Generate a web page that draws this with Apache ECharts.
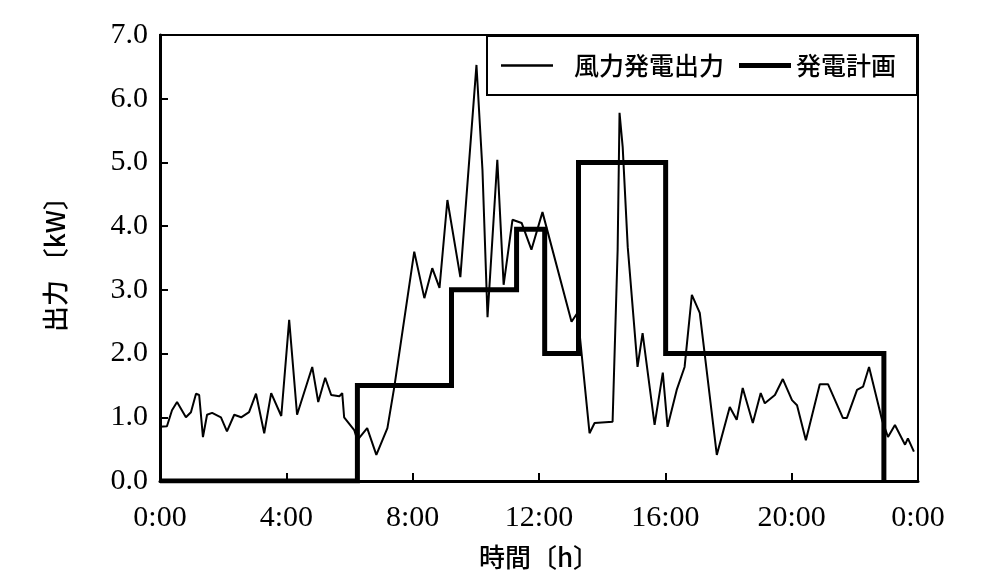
<!DOCTYPE html>
<html>
<head>
<meta charset="utf-8">
<script src="https://cdn.jsdelivr.net/npm/echarts@6/dist/echarts.min.js"></script>
<style>
html,body{margin:0;padding:0;background:#fff;}
#c{width:1008px;height:584px;}
</style>
</head>
<body>
<div id="c"></div>
<script>
// Wind power output: hours and kW
const windHours = [0,0.22,0.38,0.54,0.82,0.98,1.14,1.24,1.36,1.49,1.65,1.93,2.12,2.35,2.57,2.82,3.04,3.30,3.52,3.84,4.09,4.34,4.82,5.01,5.23,5.42,5.68,5.77,5.83,6.15,6.25,6.56,6.85,7.2,7.42,8.05,8.37,8.62,8.85,9.1,9.51,10.02,10.21,10.37,10.68,10.88,11.16,11.45,11.76,12.11,13.03,13.22,13.6,13.76,14.33,14.49,14.55,14.65,14.81,15.12,15.28,15.66,15.92,16.07,16.36,16.61,16.84,17.09,17.63,18.04,18.26,18.45,18.77,19.02,19.15,19.47,19.72,20.01,20.17,20.45,20.89,21.15,21.62,21.75,22.07,22.26,22.45,22.86,23.05,23.27,23.59,23.68,23.87];
const windValues = [0.85,0.86,1.11,1.24,1.0,1.08,1.37,1.35,0.69,1.04,1.07,1.0,0.78,1.04,1.0,1.08,1.37,0.75,1.38,1.02,2.53,1.04,1.79,1.24,1.62,1.35,1.33,1.38,1.0,0.8,0.64,0.83,0.41,0.83,1.48,3.6,2.87,3.34,3.03,4.41,3.2,6.53,4.88,2.57,5.04,3.08,4.1,4.05,3.63,4.22,2.5,2.64,0.75,0.91,0.93,3.63,5.78,5.24,3.67,1.79,2.32,0.88,1.7,0.85,1.43,1.79,2.92,2.64,0.41,1.16,0.96,1.46,0.91,1.38,1.22,1.35,1.6,1.27,1.19,0.64,1.52,1.52,0.99,0.99,1.43,1.48,1.79,0.96,0.69,0.88,0.57,0.67,0.46];
// Generation plan (step): start hour of each level and level in kW
const planHours = [0,6.25,9.23,11.29,12.18,13.25,16.01,22.92];
const planValues = [0,1.5,3.0,3.95,2.0,5.0,2.0,0];
const xTicks = [0,4,8,12,16,20,24];
const xTickLabels = ['0:00','4:00','8:00','12:00','16:00','20:00','0:00'];
const seriesNames = ['風力発電出力','発電計画'];

const windData = windHours.map((h,i)=>[h,windValues[i]]);
const planData = planHours.map((h,i)=>[h,planValues[i]]);

const chart = echarts.init(document.getElementById('c'), null, {renderer:'canvas'});
const serif = 'Liberation Serif';
const cjk = 'Noto Sans CJK JP';
chart.setOption({
  backgroundColor:'#fff',
  animation:false,
  grid:{left:160,right:90,top:35,bottom:103,show:true,borderColor:'#000',borderWidth:2,backgroundColor:'transparent'},
  legend:{
    left:487, top:36,
    orient:'horizontal',
    borderColor:'#000', borderWidth:2,
    padding:[17,21,17,14],
    itemWidth:52, itemHeight:14, itemGap:15,
    backgroundColor:'#fff',
    textStyle:{fontFamily:cjk,fontSize:25,fontWeight:500,color:'#000'},
    itemStyle:{borderWidth:0},
    data:[
      {name:seriesNames[0],icon:'path://M0,0 H46 V2 H0 Z',textStyle:{padding:[0,0,0,16]}},
      {name:seriesNames[1],icon:'path://M0,0 H52 V5 H0 Z',textStyle:{padding:[0,0,0,0]}}
    ]
  },
  xAxis:{
    type:'value',min:0,max:24,interval:4,
    name:'時間〔h〕',nameLocation:'middle',nameGap:63,
    nameTextStyle:{fontFamily:cjk,fontSize:26,fontWeight:500,color:'#000'},
    axisLine:{lineStyle:{color:'#000',width:3}},
    axisTick:{inside:true,length:8,lineStyle:{color:'#000',width:2}},
    splitLine:{show:false},
    axisLabel:{fontFamily:serif,fontSize:30,color:'#000',margin:22,
      formatter:function(v){const i=xTicks.indexOf(v);return i>=0?xTickLabels[i]:'';}}
  },
  yAxis:{
    type:'value',min:0,max:7,interval:1,
    name:'出力 〔kW〕',nameLocation:'middle',nameGap:92,nameRotate:90,
    nameTextStyle:{fontFamily:cjk,fontSize:26,fontWeight:500,color:'#000'},
    axisLine:{show:true,lineStyle:{color:'#000',width:3}},
    axisTick:{show:true,inside:true,length:8,lineStyle:{color:'#000',width:2}},
    splitLine:{show:false},
    axisLabel:{fontFamily:serif,fontSize:30,color:'#000',margin:12,
      formatter:function(v){return v.toFixed(1);}}
  },
  series:[
    {name:seriesNames[0],type:'line',data:windData,symbol:'none',
      lineStyle:{color:'#000',width:2},itemStyle:{color:'#000'},z:3},
    {name:seriesNames[1],type:'line',data:planData,symbol:'none',step:'end',
      lineStyle:{color:'#000',width:5,join:'miter'},itemStyle:{color:'#000'},z:2}
  ]
});
</script>
</body>
</html>
